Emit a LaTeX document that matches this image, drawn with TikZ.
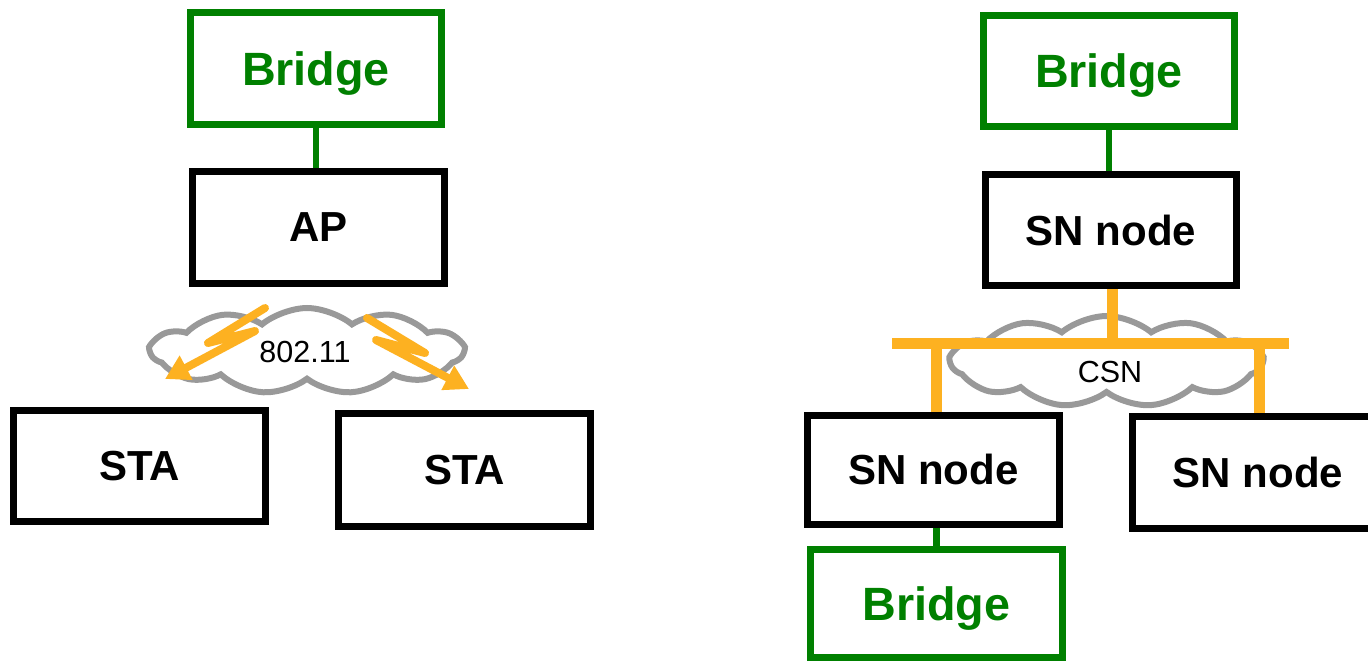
\documentclass[tikz,border=0pt]{standalone}
\usepackage{fontspec}
\setmainfont{Liberation Sans}
\usetikzlibrary{shapes.symbols,arrows.meta}
\definecolor{brgreen}{RGB}{0,128,0}
\definecolor{linkorange}{RGB}{253,177,33}
\definecolor{cloudgray}{RGB}{153,153,153}
\tikzset{
  box/.style={draw=black, line width=7pt, rectangle, inner sep=0pt, fill=white,
    text depth=0pt, font=\fontsize{42}{48}\selectfont\bfseries},
  bridgebox/.style={draw=brgreen, line width=6.5pt, rectangle, inner sep=0pt, fill=white,
    text depth=0pt, text=brgreen, font=\fontsize{46.7}{52}\selectfont\bfseries},
  greenlink/.style={draw=brgreen, line width=6.5pt},
  buslink/.style={draw=linkorange, line width=11pt},
  netcloud/.style={cloud, cloud puffs=11, cloud puff arc=80, draw=cloudgray,
    line width=6pt, fill=white, inner sep=0pt},
  netlabel/.style={font=\fontsize{30.5}{34}\selectfont, inner sep=0pt, text depth=0pt},
  bolt/.style={draw=linkorange, line width=8pt, line cap=round, line join=round,
    -{Triangle[length=24pt,width=26pt]}},
}
\begin{document}
\begin{tikzpicture}[x=1pt,y=-1pt]
  \useasboundingbox (0,0) rectangle (1368,661);
  \clip (0,0) rectangle (1368,661);

  % ---- 802.11 infrastructure ----
  \node[bridgebox, minimum width=251pt, minimum height=112pt] (brL) at (316,68.5) {Bridge};
  \node[box, minimum width=252pt, minimum height=112pt] (ap) at (318.5,227.5) {AP};
  \node[box, minimum width=252pt, minimum height=111pt] (sta1) at (139.5,466) {STA};
  \node[box, minimum width=252pt, minimum height=113pt] (sta2) at (464.5,470) {STA};
  \draw[greenlink] (brL.south) -- (brL.south |- ap.north);

  \node[netcloud, minimum width=312pt, minimum height=86pt] (wifi) at (307,351) {};
  \node[netlabel] (wifilbl) at (305,352) {802.11};

  % radio links
  \draw[bolt] (265,308) -- (208,343) -- (255,331) -- (165,379);
  \draw[bolt] (367,318) -- (425,353) -- (376,340) -- (469,389);

  % ---- CSN network ----
  \node[bridgebox, minimum width=251pt, minimum height=111pt] (brR) at (1109,71) {Bridge};
  \node[box, minimum width=251pt, minimum height=111pt] (snT) at (1111,230) {SN node};
  \node[box, minimum width=252pt, minimum height=109pt] (snL) at (933.5,469.5) {SN node};
  \node[box, minimum width=252pt, minimum height=112pt] (snR) at (1258,472) {SN node};
  \node[bridgebox, minimum width=252pt, minimum height=108pt] (brB) at (936.5,603.5) {Bridge};
  \draw[greenlink] (brR.south) -- (brR.south |- snT.north);
  \draw[greenlink] (brB.north) -- (brB.north |- snL.south);

  \node[netcloud, minimum width=311pt, minimum height=91pt] (csn) at (1106.5,361.5) {};
  \node[netlabel] (csnlbl) at (1110,372) {CSN};

  % shared medium bus
  \coordinate (busW) at (892,343.5);
  \coordinate (busE) at (1289,343.5);
  \coordinate (tapT) at (1112,343.5);
  \coordinate (tapL) at (936,343.5);
  \coordinate (tapR) at (1259,343.5);
  \draw[buslink] (snT.south -| tapT) -- (tapT);
  \draw[buslink] (busW) -- (busE);
  \draw[buslink] (tapL) -- (tapL |- snL.north);
  \draw[buslink] (tapR) -- (tapR |- snR.north);
\end{tikzpicture}
\end{document}
